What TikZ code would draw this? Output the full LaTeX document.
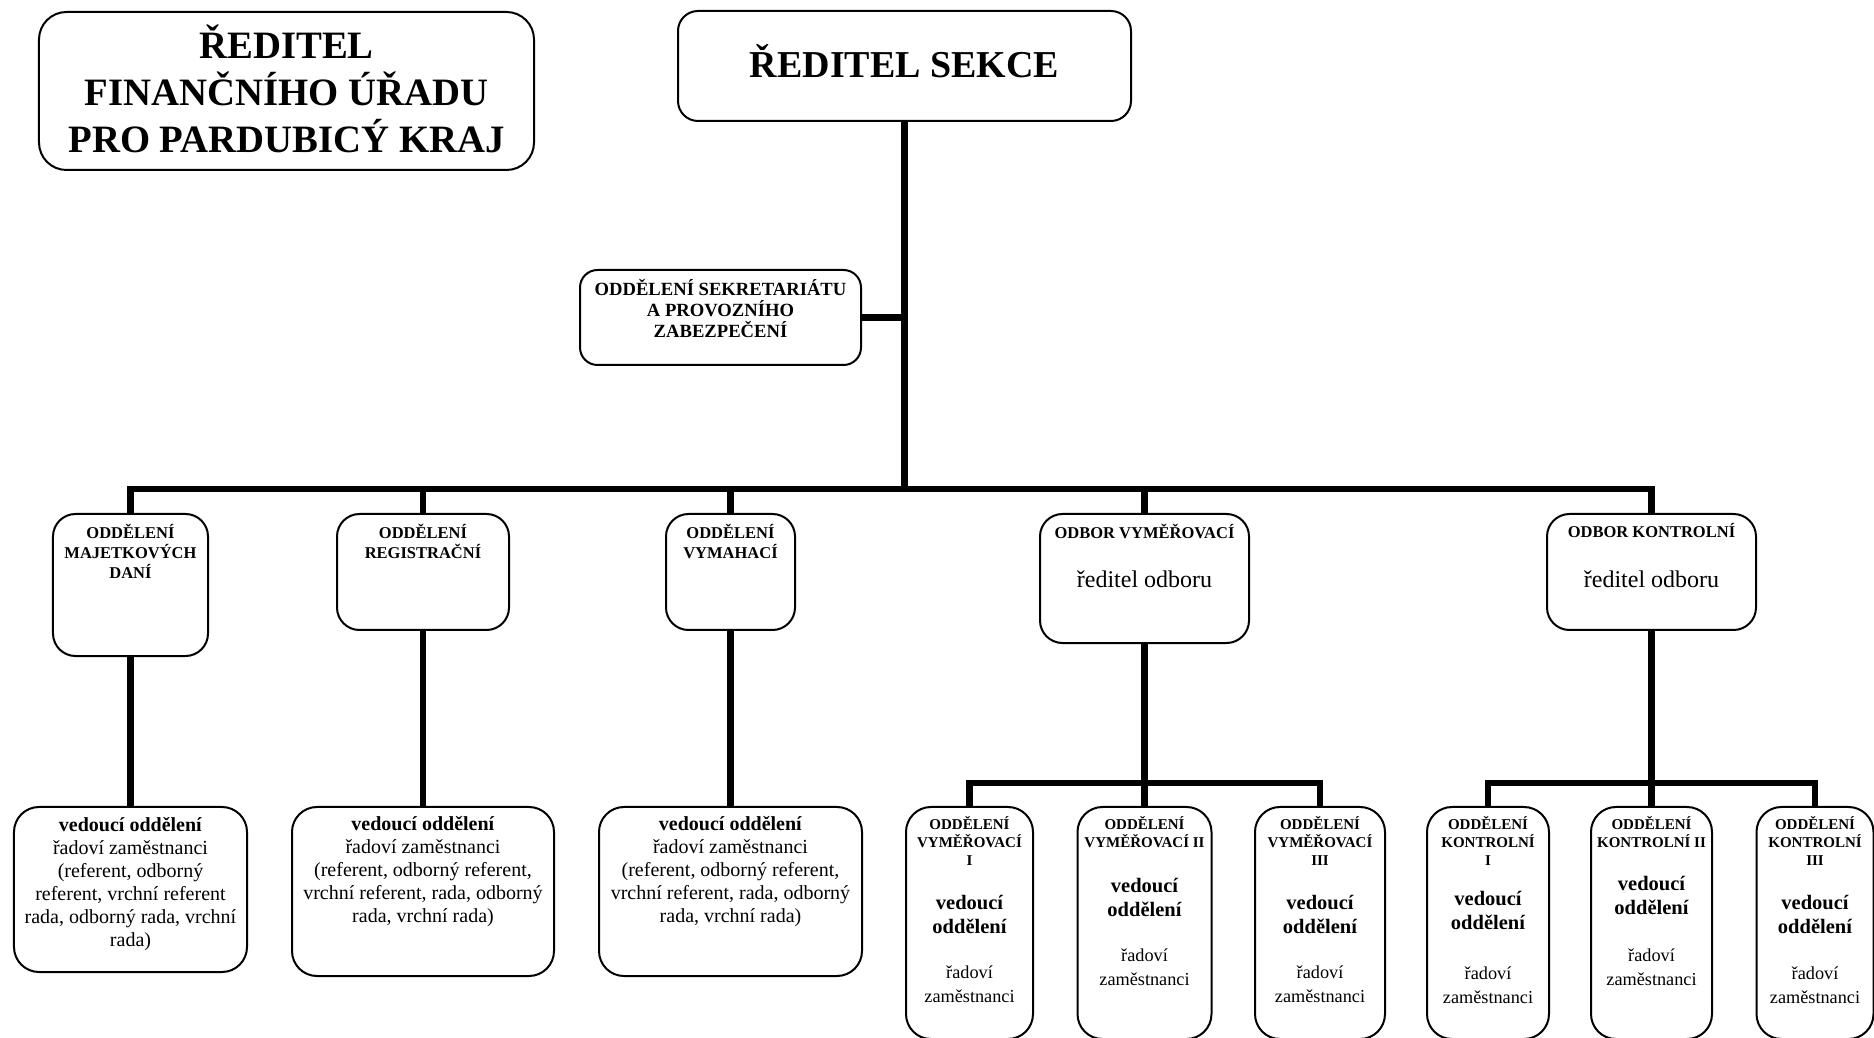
\documentclass[tikz,border=0pt]{standalone}
\usepackage{fontspec}
\setmainfont{Liberation Serif}
\newcommand\fsz[2]{\fontsize{#1}{#2}\selectfont}
\begin{document}
\begin{tikzpicture}[x=0.4pt,y=-0.4pt,
  box/.style={draw, line width=0.8pt, inner sep=0pt, rounded corners=#1},
  box/.default=9pt,
  conn/.style={line width=2.6pt},
  txt/.style={inner sep=0pt, align=center},
  ttl/.style={txt, font=\fsz{6.6pt}{8pt}\bfseries},
  stl/.style={txt, font=\fsz{6pt}{7.2pt}\bfseries},
  sved/.style={txt, font=\fsz{8.2pt}{9.6pt}\bfseries},
  srad/.style={txt, font=\fsz{7.3pt}{9.6pt}},
  big/.style={txt, font=\fsz{8pt}{9.2pt}},
  dir/.style={txt, font=\fsz{9.6pt}{11pt}},
]
\useasboundingbox (0,0) rectangle (1874,1038);

% top level
\node[box=11pt, minimum width=198pt, minimum height=63.2pt] (A) at (286.5,91) {};
\node[txt, font=\fsz{15.5pt}{18.8pt}\bfseries] (At) at (286.5,89) {ŘEDITEL\\FINANČNÍHO ÚŘADU\\PRO PARDUBICÝ KRAJ};

\node[box=8pt, minimum width=181.2pt, minimum height=44pt] (S) at (904.5,66) {};
\node[txt, font=\fsz{15.2pt}{17pt}\bfseries] (St) at (904.5,61) {ŘEDITEL SEKCE};

\node[box=7pt, minimum width=112.4pt, minimum height=38pt] (Z) at (720.5,317.5) {};
\node[txt, font=\fsz{7.45pt}{8.4pt}\bfseries] (Zt) at (720.5,309) {ODDĚLENÍ SEKRETARIÁTU\\A PROVOZNÍHO\\ZABEZPEČENÍ};

% level 2
\node[box, minimum width=62pt, minimum height=56.8pt] (Ba) at (130.5,585) {};
\node[ttl] (Bat) at (130.5,551) {ODDĚLENÍ\\MAJETKOVÝCH\\DANÍ};
\node[box, minimum width=68.8pt, minimum height=46.4pt] (Bb) at (423,572) {};
\node[ttl] (Bbt) at (423,541) {ODDĚLENÍ\\REGISTRAČNÍ};
\node[box, minimum width=51.6pt, minimum height=46.4pt] (Bc) at (730.5,572) {};
\node[ttl] (Bct) at (730.5,541) {ODDĚLENÍ\\VYMAHACÍ};
\node[box, minimum width=83.6pt, minimum height=51.6pt] (Bd) at (1144.5,578.5) {};
\node[ttl] (Bdt) at (1144.5,531) {ODBOR VYMĚŘOVACÍ};
\node[dir] (Bdr) at (1144.5,579) {ředitel odboru};
\node[box, minimum width=83.6pt, minimum height=46.4pt] (Be) at (1651.5,572) {};
\node[ttl] (Bet) at (1651.5,531) {ODBOR KONTROLNÍ};
\node[dir] (Ber) at (1651.5,579) {ředitel odboru};

% level 3 large
\node[box=10pt, minimum width=93.2pt, minimum height=66pt] (Cf) at (130.5,889.5) {};
\node[big] (Cft) at (130.5,884) {\textbf{vedoucí oddělení}\\řadoví zaměstnanci\\(referent, odborný\\referent, vrchní referent\\rada, odborný rada, vrchní\\rada)};
\node[box=10pt, minimum width=104.8pt, minimum height=67.6pt] (Cg) at (423,891.5) {};
\node[big] (Cgt) at (423,872) {\textbf{vedoucí oddělení}\\řadoví zaměstnanci\\(referent, odborný referent,\\vrchní referent, rada, odborný\\rada, vrchní rada)};
\node[box=10pt, minimum width=105.2pt, minimum height=67.6pt] (Ch) at (730.5,891.5) {};
\node[big] (Cht) at (730.5,872) {\textbf{vedoucí oddělení}\\řadoví zaměstnanci\\(referent, odborný referent,\\vrchní referent, rada, odborný\\rada, vrchní rada)};

% level 3 small
\node[box=10pt, minimum width=50.8pt, minimum height=92.8pt] (Di) at (969.5,923) {};
\node[stl] (Dit) at (969.5,841) {ODDĚLENÍ\\VYMĚŘOVACÍ\\I};
\node[sved] (Div) at (969.5,914) {vedoucí\\oddělení};
\node[srad] (Dir) at (969.5,984) {řadoví\\zaměstnanci};

\node[box=10pt, minimum width=53.6pt, minimum height=92.8pt] (Dj) at (1144.5,923) {};
\node[stl] (Djt) at (1144.5,832) {ODDĚLENÍ\\VYMĚŘOVACÍ II};
\node[sved] (Djv) at (1144.5,897) {vedoucí\\oddělení};
\node[srad] (Djr) at (1144.5,967) {řadoví\\zaměstnanci};

\node[box=10pt, minimum width=52pt, minimum height=92.8pt] (Dk) at (1320,923) {};
\node[stl] (Dkt) at (1320,841) {ODDĚLENÍ\\VYMĚŘOVACÍ\\III};
\node[sved] (Dkv) at (1320,914) {vedoucí\\oddělení};
\node[srad] (Dkr) at (1320,984) {řadoví\\zaměstnanci};

\node[box=10pt, minimum width=48.8pt, minimum height=92.8pt] (Dl) at (1488,923) {};
\node[stl] (Dlt) at (1488,841) {ODDĚLENÍ\\KONTROLNÍ\\I};
\node[sved] (Dlv) at (1488,910) {vedoucí\\oddělení};
\node[srad] (Dlr) at (1488,985) {řadoví\\zaměstnanci};

\node[box=10pt, minimum width=48.4pt, minimum height=92.8pt] (Dm) at (1651.5,923) {};
\node[stl] (Dmt) at (1651.5,832) {ODDĚLENÍ\\KONTROLNÍ II};
\node[sved] (Dmv) at (1651.5,895) {vedoucí\\oddělení};
\node[srad] (Dmr) at (1651.5,967) {řadoví\\zaměstnanci};

\node[box=10pt, minimum width=46.8pt, minimum height=92.8pt] (Dn) at (1815,923) {};
\node[stl] (Dnt) at (1815,841) {ODDĚLENÍ\\KONTROLNÍ\\III};
\node[sved] (Dnv) at (1815,914) {vedoucí\\oddělení};
\node[srad] (Dnr) at (1815,985) {řadoví\\zaměstnanci};

% connectors
\coordinate (bus) at (904.5,489);
\coordinate (subd) at (1144.5,783);
\coordinate (sube) at (1651.5,783);
\draw[conn] (S.south) -- (bus);
\draw[conn] (Z.east) -- (Z.east -| S.south);
\foreach \n in {Ba,Bb,Bc,Bd,Be} \draw[conn] (\n.north) |- (bus);
\draw[conn] (Ba.south) -- (Cf.north);
\draw[conn] (Bb.south) -- (Cg.north);
\draw[conn] (Bc.south) -- (Ch.north);
\draw[conn] (Bd.south) -- (subd);
\foreach \n in {Di,Dj,Dk} \draw[conn] (\n.north) |- (subd);
\draw[conn] (Be.south) -- (sube);
\foreach \n in {Dl,Dm,Dn} \draw[conn] (\n.north) |- (sube);
\end{tikzpicture}
\end{document}
